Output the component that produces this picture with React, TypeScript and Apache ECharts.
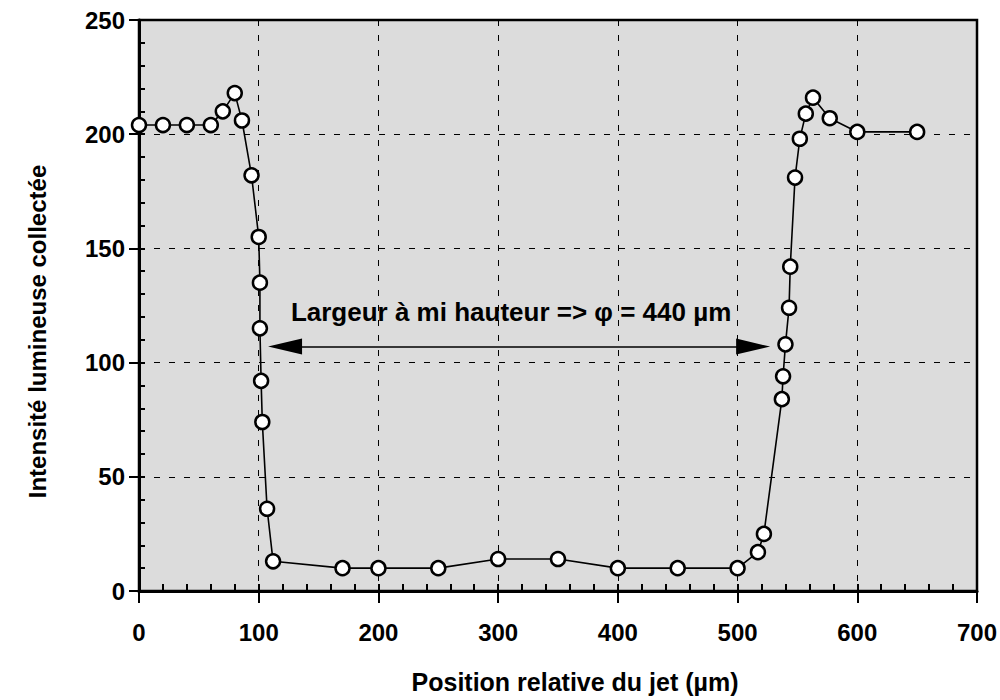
import React, { useEffect, useRef } from "react";
import * as echarts from "echarts";

const positions = [0, 20, 40, 60, 70, 80, 86, 94, 100, 101, 101, 102, 103, 107, 112, 170, 200, 250, 300, 350, 400, 450, 500, 517, 522, 537, 538, 540, 543, 544, 548, 552, 557, 563, 577, 600, 650];
const intensities = [204, 204, 204, 204, 210, 218, 206, 182, 155, 135, 115, 92, 74, 36, 13, 10, 10, 10, 14, 14, 10, 10, 10, 17, 25, 84, 94, 108, 124, 142, 181, 198, 209, 216, 207, 201, 201];
const arrowStart = [122, 107];
const arrowEnd = [513, 107];
const annotation = "Largeur à mi hauteur => φ = 440 µm";
const xTitle = "Position relative du jet (µm)";
const yTitle = "Intensité lumineuse collectée";

const FONT = "'Liberation Sans', Arial, Helvetica, sans-serif";

export default function App() {
  const ref = useRef<HTMLDivElement>(null);
  useEffect(() => {
    if (!ref.current) return;
    const chart = echarts.init(ref.current, null, { renderer: "svg" });
    const data = positions.map((x, i) => [x, intensities[i]]);
    chart.setOption({
      animation: false,
      backgroundColor: "#ffffff",
      grid: {
        left: 139,
        right: 23,
        top: 20,
        bottom: 109,
        outerBoundsMode: "none",
        containLabel: false,
        show: true,
        backgroundColor: "#dcdcdc",
        borderColor: "#000",
        borderWidth: 2.5,
      },
      xAxis: [
        {
          type: "value",
          min: 0,
          max: 700,
          interval: 100,
          name: xTitle,
          nameLocation: "middle",
          nameGap: 78,
          nameTextStyle: { fontFamily: FONT, fontWeight: "bold", fontSize: 25, color: "#000", padding: [0, 0, 0, 34] },
          axisLine: { show: true, lineStyle: { color: "#000", width: 3 } },
          axisTick: { show: true, inside: false, length: 12, lineStyle: { color: "#000", width: 2 } },
          axisLabel: { margin: 29, fontFamily: FONT, fontWeight: "bold", fontSize: 24, color: "#000" },
          splitLine: { show: true, lineStyle: { color: "#000", width: 1, type: [6, 9] } },
        },
        {
          type: "value",
          min: 0,
          max: 700,
          interval: 20,
          position: "bottom",
          axisLine: { show: false },
          axisTick: { show: true, inside: true, length: 7, lineStyle: { color: "#000", width: 2 } },
          axisLabel: { show: false },
          splitLine: { show: false },
        },
      ],
      yAxis: [
        {
          type: "value",
          min: 0,
          max: 250,
          interval: 50,
          name: yTitle,
          nameLocation: "middle",
          nameGap: 90,
          nameTextStyle: { fontFamily: FONT, fontWeight: "bold", fontSize: 24, color: "#000", padding: [0, 52, 0, 0] },
          axisLine: { show: true, lineStyle: { color: "#000", width: 3 } },
          axisTick: { show: true, inside: false, length: 10, lineStyle: { color: "#000", width: 2 } },
          axisLabel: { margin: 14, fontFamily: FONT, fontWeight: "bold", fontSize: 24, color: "#000" },
          splitLine: { show: true, lineStyle: { color: "#000", width: 1, type: [6, 9] } },
        },
        {
          type: "value",
          min: 0,
          max: 250,
          interval: 10,
          position: "left",
          axisLine: { show: false },
          axisTick: { show: true, inside: true, length: 6, lineStyle: { color: "#000", width: 2 } },
          axisLabel: { show: false },
          splitLine: { show: false },
        },
      ],
      series: [
        {
          type: "line",
          data,
          xAxisIndex: 0,
          yAxisIndex: 0,
          symbol: "circle",
          symbolSize: 14,
          showAllSymbol: true,
          itemStyle: { color: "#ffffff", borderColor: "#000", borderWidth: 2.5 },
          lineStyle: { color: "#000", width: 1.6 },
          z: 5,
          markLine: {
            silent: true,
            symbol: ["triangle", "triangle"],
            symbolSize: [16, 34],
            lineStyle: { color: "#000", width: 1.5, type: "solid" },
            label: {
              show: true,
              position: "insideMiddleTop",
              distance: 22,
              formatter: annotation,
              fontFamily: FONT,
              fontWeight: "bold",
              fontSize: 26,
              color: "#000",
              padding: [0, 16, 0, 0],
            },
            data: [[{ coord: arrowStart }, { coord: arrowEnd }]],
          },
        },
      ],
    });
    return () => chart.dispose();
  }, []);
  return (
    <div
      ref={ref}
      style={{ position: "fixed", left: 0, top: 0, width: 1000, height: 700 }}
    />
  );
}
